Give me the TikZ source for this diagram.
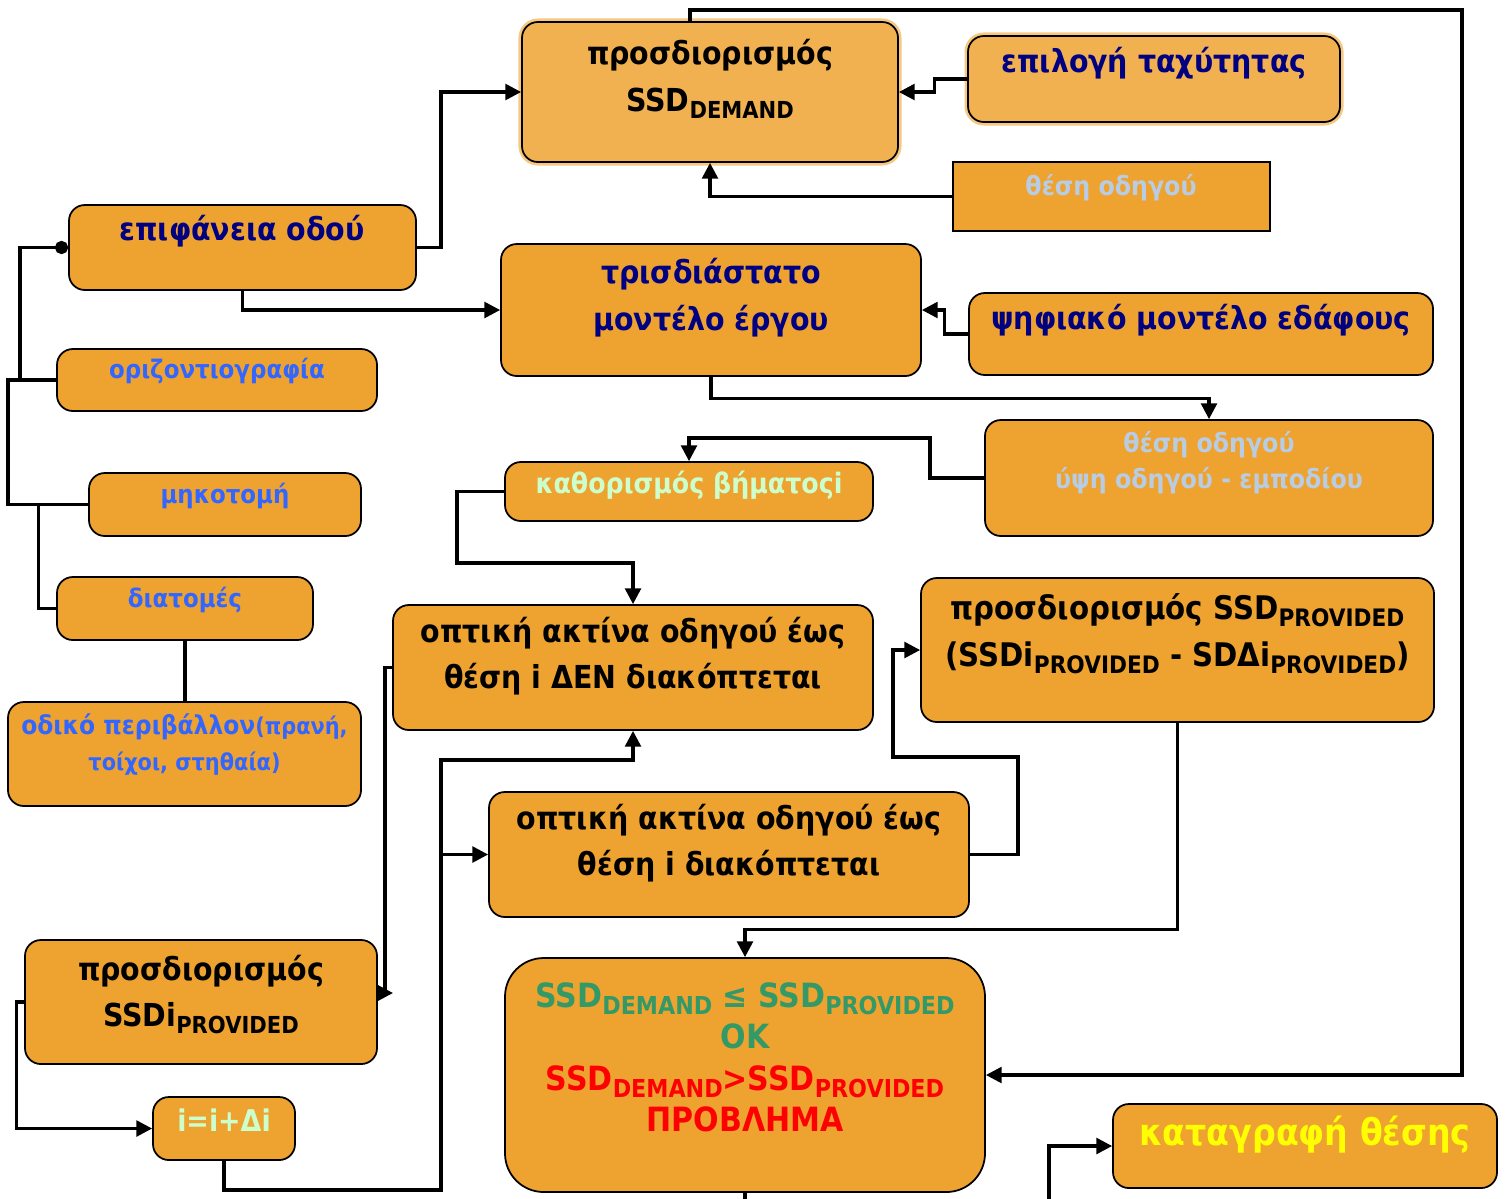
\documentclass[tikz,border=0pt]{standalone}
\usepackage{fontspec}
\usepackage{graphicx}
\setmainfont{DejaVu Sans}[FakeStretch=0.9]
\usetikzlibrary{arrows.meta}

\definecolor{boxfill}{RGB}{238,163,49}
\definecolor{lightfill}{RGB}{241,177,80}
\definecolor{boxglow}{RGB}{246,200,130}
\definecolor{navy}{RGB}{0,0,128}
\definecolor{lightblue}{RGB}{51,102,255}
\definecolor{greyblue}{RGB}{184,204,228}
\definecolor{palegreen}{RGB}{204,255,204}
\definecolor{okgreen}{RGB}{51,153,102}
\definecolor{brightyellow}{RGB}{255,255,0}

% low small capitals used as index
\newcommand\dn[1]{\raisebox{-0.4ex}{\scalebox{0.74}{#1}}}

\begin{document}
\begin{tikzpicture}[x=0.02cm,y=-0.02cm,
  every node/.style={font=\bfseries},
  box/.style 2 args={draw=black,line width=1pt,fill=boxfill,rounded corners=9pt,
    minimum width=#1*0.02cm,minimum height=#2*0.02cm,inner sep=0pt},
  glow/.style={preaction={draw=boxglow,line width=4pt}},
  bigtxt/.style={align=center,inner sep=0pt,font=\fontsize{18}{26.5}\selectfont\bfseries},
  navytxt/.style={bigtxt,text=navy},
  bluetxt/.style={align=center,inner sep=0pt,text=lightblue,font=\fontsize{14.5}{20}\selectfont\bfseries},
  greytxt/.style={align=center,inner sep=0pt,text=greyblue,font=\fontsize{15}{20.5}\selectfont\bfseries},
  wire/.style={line width=1.8pt},
  warr/.style={wire,-{Triangle[length=9pt,width=9pt]}}]
  \useasboundingbox (0,0) rectangle (1506,1198);

  % boxes
  \node (dem) [box={376}{140},fill=lightfill,glow] at (710,92) {};
  \node (dem-t) [bigtxt] at (710,79) {προσδιορισμός\\SSD\dn{DEMAND}};
  \node (speed) [box={372}{86},fill=lightfill,glow] at (1154,79) {};
  \node (speed-t) [navytxt] at (1154,63) {επιλογή ταχύτητας};
  \node (pos1) [box={317}{69},rounded corners=0pt] at (1111.5,196.5) {};
  \node (pos1-t) [greytxt] at (1111,188) {θέση οδηγού};
  \node (surf) [box={347}{85}] at (242.5,247.5) {};
  \node (surf-t) [navytxt] at (242,231) {επιφάνεια οδού};
  \node (model) [box={420}{132}] at (711,310) {};
  \node (model-t) [navytxt] at (711,297.5) {τρισδιάστατο\\μοντέλο έργου};
  \node (dtm) [box={464}{82}] at (1201,334) {};
  \node (dtm-t) [navytxt] at (1201,320) {ψηφιακό μοντέλο εδάφους};
  \node (plan) [box={320}{62}] at (217,380) {};
  \node (plan-t) [bluetxt] at (217,371) {οριζοντιογραφία};
  \node (pos2) [box={448}{116}] at (1209,478) {};
  \node (pos2-t) [greytxt] at (1209,462.5) {θέση οδηγού\\ύψη οδηγού - εμποδίου};
  \node (pace) [box={368}{59}] at (689,491.5) {};
  \node (pace-t) [greytxt,text=palegreen,font=\fontsize{16}{20}\selectfont\bfseries] at (689,485) {καθορισμός βήματοςi};
  \node (prof) [box={272}{63}] at (225,504.5) {};
  \node (prof-t) [bluetxt] at (225,496) {μηκοτομή};
  \node (xsec) [box={256}{63}] at (185,608.5) {};
  \node (xsec-t) [bluetxt] at (185,600) {διατομές};
  \node (clear) [box={480}{125}] at (633,667.5) {};
  \node (clear-t) [bigtxt] at (633,656) {οπτική ακτίνα οδηγού έως\\θέση i ΔΕΝ διακόπτεται};
  \node (prov) [box={513}{144}] at (1177.5,650) {};
  \node (prov-t) [bigtxt,font=\fontsize{18.5}{26.5}\selectfont\bfseries] at (1177.5,633.5) {προσδιορισμός SSD\dn{PROVIDED}\\(SSDi\dn{PROVIDED} - SDΔi\dn{PROVIDED})};
  \node (env) [box={353}{104}] at (184.5,754) {};
  \node (env-t) [bluetxt,font=\fontsize{13.2}{20}\selectfont\bfseries] at (184.5,744.5) {{\fontsize{14.8}{20}\selectfont οδικό περιβάλλον}(πρανή,\\τοίχοι, στηθαία)};
  \node (block) [box={480}{125}] at (729,854.5) {};
  \node (block-t) [bigtxt] at (729,843) {οπτική ακτίνα οδηγού έως\\θέση i διακόπτεται};
  \node (ssdi) [box={352}{124}] at (201,1002) {};
  \node (ssdi-t) [bigtxt] at (201,994.5) {προσδιορισμός\\SSDi\dn{PROVIDED}};
  \node (res) [box={480}{234},rounded corners=22pt] at (745,1075) {};
  \node (res-t) [bigtxt,font=\fontsize{19}{23.6}\selectfont\bfseries] at (745,1057.5)
    {\textcolor{okgreen}{SSD\dn{DEMAND} ≤ SSD\dn{PROVIDED}}\\\textcolor{okgreen}{OK}\\
     \textcolor{red}{SSD\dn{DEMAND}>SSD\dn{PROVIDED}}\\\textcolor{red}{ΠΡΟΒΛΗΜΑ}};
  \node (incr) [box={142}{63}] at (224,1128.5) {};
  \node (incr-t) [greytxt,text=palegreen,font=\fontsize{17}{20}\selectfont\bfseries] at (224,1120) {i=i+Δi};
  \node (rec) [box={384}{84}] at (1305,1146) {};
  \node (rec-t) [bigtxt,text=brightyellow,font=\fontsize{21}{24}\selectfont\bfseries] at (1305,1135) {καταγραφή θέσης};

  \coordinate (jend) at (393,993);
  \coordinate (split) at (441,854.5);

  % input tree on the left
  \draw[wire,{Circle[length=7.5pt]}-] (surf.west) -| (20,380) -- (plan.west);
  \draw[wire] (plan.west) -| (8,504.5) -- (prof.west);
  \draw[wire] (prof.west) ++(-50,0) |- (xsec.west);
  \draw[wire] (xsec.south) -- (xsec.south |- env.north);

  % flow
  \draw[warr] (surf.east) -| (441,92) -- (dem.west);
  \draw[warr] (surf.south) |- (model.west);
  \draw[warr] (speed.west) -- ++(-33,0) |- (dem.east);
  \draw[warr] (pos1.west) -| (dem.south);
  \draw[warr] (dtm.west) -- ++(-24,0) |- (model.east);
  \draw[warr] (model.south) -- ++(0,22) -| (pos2.north);
  \draw[warr] (pos2.west) -| (930,438) -| (pace.north);
  \draw[warr] (pace.west) -| (457,563) -| (clear.north);
  \draw[warr] (clear.west) -| (385,993) -- (jend);
  \draw[warr] (ssdi.west) -- ++(-8,0) |- (incr.west);
  \draw[warr] (incr.south) |- (441,1190) -- (441,760) -| (clear.south);
  \draw[warr] (split) -- (block.west);
  \draw[warr] (block.east) -| (1018,757) -| (893,650) -- (prov.west);
  \draw[warr] (prov.south) -- ++(0,207) -| (res.north);
  \draw[warr] (dem.north) ++(-20,0) |- (1462,10) |- (res.east);
  \draw[warr] (res.south) -- ++(0,8) -| (1049,1146) -- (rec.west);
\end{tikzpicture}
\end{document}
